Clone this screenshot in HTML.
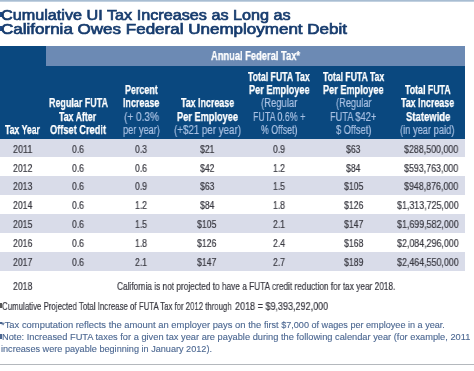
<!DOCTYPE html>
<html><head><meta charset="utf-8"><style>
html,body{margin:0;padding:0;background:#fff;width:474px;height:371px;overflow:hidden;position:relative}
.t{position:absolute;white-space:nowrap;font-family:"Liberation Sans",sans-serif;transform-origin:0 0;will-change:transform}
.r{position:absolute}
</style></head><body>
<div class="r" style="left:0px;top:0px;width:474px;height:1px;background:#a8bdd2"></div>
<div class="r" style="left:0px;top:1px;width:474px;height:1px;background:#c2d1e0"></div>
<div class="r" style="left:0px;top:46px;width:465px;height:92.5px;background:#0a487f"></div>
<div class="r" style="left:46px;top:46px;width:419px;height:19.6px;background:#6c8ab4"></div>
<div class="r" style="left:0px;top:138.5px;width:465px;height:18.93px;background:#d9dce9"></div>
<div class="r" style="left:0px;top:176.4px;width:465px;height:18.93px;background:#d9dce9"></div>
<div class="r" style="left:0px;top:214.2px;width:465px;height:18.93px;background:#d9dce9"></div>
<div class="r" style="left:0px;top:252.1px;width:465px;height:18.93px;background:#d9dce9"></div>
<div class="r" style="left:0px;top:363.5px;width:474px;height:1.2px;background:#b4b8bd"></div>
<div class="r" style="left:0px;top:12px;width:1.5px;height:5px;background:#1d4a8a"></div>
<div class="r" style="left:0px;top:26px;width:1.5px;height:4.5px;background:#1d4a8a"></div>
<div class="r" style="left:0px;top:303px;width:1.5px;height:5px;background:#555"></div>
<div class="r" style="left:0px;top:322px;width:2px;height:1.5px;background:#4b6690"></div>
<div class="r" style="left:0px;top:334px;width:1.5px;height:5px;background:#4b6690"></div>
<div class="t" style="left:0.80px;top:6.00px;font-size:15.3px;line-height:17px;font-weight:normal;color:#173c6e;transform:scaleX(1.0590);-webkit-text-stroke:0.7px #173c6e">Cumulative UI Tax Increases as Long as</div>
<div class="t" style="left:0.80px;top:20.00px;font-size:15.3px;line-height:17px;font-weight:normal;color:#173c6e;transform:scaleX(1.1120);-webkit-text-stroke:0.7px #173c6e">California Owes Federal Unemployment Debit</div>
<div class="t" style="left:210.80px;top:49.00px;font-size:12.0px;line-height:14px;font-weight:bold;color:#ffffff;transform:scaleX(0.7774);-webkit-text-stroke:0.25px #fff">Annual Federal Tax*</div>
<div class="t" style="left:5.30px;top:123.00px;font-size:12.0px;line-height:14px;font-weight:bold;color:#ffffff;transform:scaleX(0.7231);-webkit-text-stroke:0.25px #fff">Tax Year</div>
<div class="t" style="left:48.80px;top:96.00px;font-size:12.0px;line-height:14px;font-weight:bold;color:#ffffff;transform:scaleX(0.7457);-webkit-text-stroke:0.25px #fff">Regular FUTA</div>
<div class="t" style="left:59.20px;top:110.00px;font-size:12.0px;line-height:14px;font-weight:bold;color:#ffffff;transform:scaleX(0.7321);-webkit-text-stroke:0.25px #fff">Tax After</div>
<div class="t" style="left:50.00px;top:123.00px;font-size:12.0px;line-height:14px;font-weight:bold;color:#ffffff;transform:scaleX(0.7706);-webkit-text-stroke:0.25px #fff">Offset Credit</div>
<div class="t" style="left:124.90px;top:83.00px;font-size:12.0px;line-height:14px;font-weight:bold;color:#ffffff;transform:scaleX(0.7429);-webkit-text-stroke:0.25px #fff">Percent</div>
<div class="t" style="left:123.10px;top:96.00px;font-size:12.0px;line-height:14px;font-weight:bold;color:#ffffff;transform:scaleX(0.7453);-webkit-text-stroke:0.25px #fff">Increase</div>
<div class="t" style="left:123.70px;top:110.00px;font-size:12.0px;line-height:14px;font-weight:normal;color:#a9c1e3;transform:scaleX(0.8396);-webkit-text-stroke:0.2px #a9c1e3">(+ 0.3%</div>
<div class="t" style="left:123.00px;top:123.00px;font-size:12.0px;line-height:14px;font-weight:normal;color:#a9c1e3;transform:scaleX(0.7684);-webkit-text-stroke:0.2px #a9c1e3">per year)</div>
<div class="t" style="left:180.90px;top:96.00px;font-size:12.0px;line-height:14px;font-weight:bold;color:#ffffff;transform:scaleX(0.7393);-webkit-text-stroke:0.25px #fff">Tax Increase</div>
<div class="t" style="left:177.00px;top:110.00px;font-size:12.0px;line-height:14px;font-weight:bold;color:#ffffff;transform:scaleX(0.7686);-webkit-text-stroke:0.25px #fff">Per Employee</div>
<div class="t" style="left:174.20px;top:123.00px;font-size:12.0px;line-height:14px;font-weight:normal;color:#a9c1e3;transform:scaleX(0.8121);-webkit-text-stroke:0.2px #a9c1e3">(+$21 per year)</div>
<div class="t" style="left:248.30px;top:70.00px;font-size:12.0px;line-height:14px;font-weight:bold;color:#ffffff;transform:scaleX(0.7268);-webkit-text-stroke:0.25px #fff">Total FUTA Tax</div>
<div class="t" style="left:248.80px;top:83.00px;font-size:12.0px;line-height:14px;font-weight:bold;color:#ffffff;transform:scaleX(0.7635);-webkit-text-stroke:0.25px #fff">Per Employee</div>
<div class="t" style="left:261.00px;top:96.00px;font-size:12.0px;line-height:14px;font-weight:normal;color:#a9c1e3;transform:scaleX(0.7910);-webkit-text-stroke:0.2px #a9c1e3">(Regular</div>
<div class="t" style="left:252.70px;top:110.00px;font-size:12.0px;line-height:14px;font-weight:normal;color:#a9c1e3;transform:scaleX(0.7401);-webkit-text-stroke:0.2px #a9c1e3">FUTA 0.6% +</div>
<div class="t" style="left:261.40px;top:123.00px;font-size:12.0px;line-height:14px;font-weight:normal;color:#a9c1e3;transform:scaleX(0.7311);-webkit-text-stroke:0.2px #a9c1e3">% Offset)</div>
<div class="t" style="left:322.80px;top:70.00px;font-size:12.0px;line-height:14px;font-weight:bold;color:#ffffff;transform:scaleX(0.7209);-webkit-text-stroke:0.25px #fff">Total FUTA Tax</div>
<div class="t" style="left:322.80px;top:83.00px;font-size:12.0px;line-height:14px;font-weight:bold;color:#ffffff;transform:scaleX(0.7635);-webkit-text-stroke:0.25px #fff">Per Employee</div>
<div class="t" style="left:335.80px;top:96.00px;font-size:12.0px;line-height:14px;font-weight:normal;color:#a9c1e3;transform:scaleX(0.7736);-webkit-text-stroke:0.2px #a9c1e3">(Regular</div>
<div class="t" style="left:330.00px;top:110.00px;font-size:12.0px;line-height:14px;font-weight:normal;color:#a9c1e3;transform:scaleX(0.7682);-webkit-text-stroke:0.2px #a9c1e3">FUTA $42+</div>
<div class="t" style="left:336.40px;top:123.00px;font-size:12.0px;line-height:14px;font-weight:normal;color:#a9c1e3;transform:scaleX(0.7731);-webkit-text-stroke:0.2px #a9c1e3">$ Offset)</div>
<div class="t" style="left:405.00px;top:83.00px;font-size:12.0px;line-height:14px;font-weight:bold;color:#ffffff;transform:scaleX(0.7346);-webkit-text-stroke:0.25px #fff">Total FUTA</div>
<div class="t" style="left:401.20px;top:96.00px;font-size:12.0px;line-height:14px;font-weight:bold;color:#ffffff;transform:scaleX(0.7393);-webkit-text-stroke:0.25px #fff">Tax Increase</div>
<div class="t" style="left:405.50px;top:110.00px;font-size:12.0px;line-height:14px;font-weight:bold;color:#ffffff;transform:scaleX(0.7926);-webkit-text-stroke:0.25px #fff">Statewide</div>
<div class="t" style="left:399.90px;top:123.00px;font-size:12.0px;line-height:14px;font-weight:normal;color:#a9c1e3;transform:scaleX(0.7768);-webkit-text-stroke:0.2px #a9c1e3">(in year paid)</div>
<div class="t" style="left:13.40px;top:143.00px;font-size:10.6px;line-height:12px;font-weight:normal;color:#383840;transform:scaleX(0.8469);-webkit-text-stroke:0.2px #383840">2011</div>
<div class="t" style="left:71.80px;top:143.00px;font-size:10.6px;line-height:12px;font-weight:normal;color:#383840;transform:scaleX(0.8144);-webkit-text-stroke:0.2px #383840">0.6</div>
<div class="t" style="left:135.05px;top:143.00px;font-size:10.6px;line-height:12px;font-weight:normal;color:#383840;transform:scaleX(0.8144);-webkit-text-stroke:0.2px #383840">0.3</div>
<div class="t" style="left:199.92px;top:143.00px;font-size:10.6px;line-height:12px;font-weight:normal;color:#383840;transform:scaleX(0.8116);-webkit-text-stroke:0.2px #383840">$21</div>
<div class="t" style="left:273.00px;top:143.00px;font-size:10.6px;line-height:12px;font-weight:normal;color:#383840;transform:scaleX(0.8144);-webkit-text-stroke:0.2px #383840">0.9</div>
<div class="t" style="left:346.27px;top:143.00px;font-size:10.6px;line-height:12px;font-weight:normal;color:#383840;transform:scaleX(0.8116);-webkit-text-stroke:0.2px #383840">$63</div>
<div class="t" style="left:404.20px;top:143.00px;font-size:10.6px;line-height:12px;font-weight:normal;color:#383840;transform:scaleX(0.8359);-webkit-text-stroke:0.2px #383840">$288,500,000</div>
<div class="t" style="left:13.40px;top:162.00px;font-size:10.6px;line-height:12px;font-weight:normal;color:#383840;transform:scaleX(0.8183);-webkit-text-stroke:0.2px #383840">2012</div>
<div class="t" style="left:71.80px;top:162.00px;font-size:10.6px;line-height:12px;font-weight:normal;color:#383840;transform:scaleX(0.8144);-webkit-text-stroke:0.2px #383840">0.6</div>
<div class="t" style="left:135.05px;top:162.00px;font-size:10.6px;line-height:12px;font-weight:normal;color:#383840;transform:scaleX(0.8144);-webkit-text-stroke:0.2px #383840">0.6</div>
<div class="t" style="left:199.92px;top:162.00px;font-size:10.6px;line-height:12px;font-weight:normal;color:#383840;transform:scaleX(0.8116);-webkit-text-stroke:0.2px #383840">$42</div>
<div class="t" style="left:273.00px;top:162.00px;font-size:10.6px;line-height:12px;font-weight:normal;color:#383840;transform:scaleX(0.8144);-webkit-text-stroke:0.2px #383840">1.2</div>
<div class="t" style="left:346.27px;top:162.00px;font-size:10.6px;line-height:12px;font-weight:normal;color:#383840;transform:scaleX(0.8116);-webkit-text-stroke:0.2px #383840">$84</div>
<div class="t" style="left:404.20px;top:162.00px;font-size:10.6px;line-height:12px;font-weight:normal;color:#383840;transform:scaleX(0.8359);-webkit-text-stroke:0.2px #383840">$593,763,000</div>
<div class="t" style="left:13.40px;top:180.00px;font-size:10.6px;line-height:12px;font-weight:normal;color:#383840;transform:scaleX(0.8183);-webkit-text-stroke:0.2px #383840">2013</div>
<div class="t" style="left:71.80px;top:180.00px;font-size:10.6px;line-height:12px;font-weight:normal;color:#383840;transform:scaleX(0.8144);-webkit-text-stroke:0.2px #383840">0.6</div>
<div class="t" style="left:135.05px;top:180.00px;font-size:10.6px;line-height:12px;font-weight:normal;color:#383840;transform:scaleX(0.8144);-webkit-text-stroke:0.2px #383840">0.9</div>
<div class="t" style="left:199.92px;top:180.00px;font-size:10.6px;line-height:12px;font-weight:normal;color:#383840;transform:scaleX(0.8116);-webkit-text-stroke:0.2px #383840">$63</div>
<div class="t" style="left:273.00px;top:180.00px;font-size:10.6px;line-height:12px;font-weight:normal;color:#383840;transform:scaleX(0.8144);-webkit-text-stroke:0.2px #383840">1.5</div>
<div class="t" style="left:343.80px;top:180.00px;font-size:10.6px;line-height:12px;font-weight:normal;color:#383840;transform:scaleX(0.8183);-webkit-text-stroke:0.2px #383840">$105</div>
<div class="t" style="left:404.20px;top:180.00px;font-size:10.6px;line-height:12px;font-weight:normal;color:#383840;transform:scaleX(0.8359);-webkit-text-stroke:0.2px #383840">$948,876,000</div>
<div class="t" style="left:13.40px;top:199.00px;font-size:10.6px;line-height:12px;font-weight:normal;color:#383840;transform:scaleX(0.8183);-webkit-text-stroke:0.2px #383840">2014</div>
<div class="t" style="left:71.80px;top:199.00px;font-size:10.6px;line-height:12px;font-weight:normal;color:#383840;transform:scaleX(0.8144);-webkit-text-stroke:0.2px #383840">0.6</div>
<div class="t" style="left:135.05px;top:199.00px;font-size:10.6px;line-height:12px;font-weight:normal;color:#383840;transform:scaleX(0.8144);-webkit-text-stroke:0.2px #383840">1.2</div>
<div class="t" style="left:199.92px;top:199.00px;font-size:10.6px;line-height:12px;font-weight:normal;color:#383840;transform:scaleX(0.8116);-webkit-text-stroke:0.2px #383840">$84</div>
<div class="t" style="left:273.00px;top:199.00px;font-size:10.6px;line-height:12px;font-weight:normal;color:#383840;transform:scaleX(0.8144);-webkit-text-stroke:0.2px #383840">1.8</div>
<div class="t" style="left:343.80px;top:199.00px;font-size:10.6px;line-height:12px;font-weight:normal;color:#383840;transform:scaleX(0.8183);-webkit-text-stroke:0.2px #383840">$126</div>
<div class="t" style="left:396.65px;top:199.00px;font-size:10.6px;line-height:12px;font-weight:normal;color:#383840;transform:scaleX(0.8381);-webkit-text-stroke:0.2px #383840">$1,313,725,000</div>
<div class="t" style="left:13.40px;top:218.00px;font-size:10.6px;line-height:12px;font-weight:normal;color:#383840;transform:scaleX(0.8183);-webkit-text-stroke:0.2px #383840">2015</div>
<div class="t" style="left:71.80px;top:218.00px;font-size:10.6px;line-height:12px;font-weight:normal;color:#383840;transform:scaleX(0.8144);-webkit-text-stroke:0.2px #383840">0.6</div>
<div class="t" style="left:135.05px;top:218.00px;font-size:10.6px;line-height:12px;font-weight:normal;color:#383840;transform:scaleX(0.8144);-webkit-text-stroke:0.2px #383840">1.5</div>
<div class="t" style="left:197.45px;top:218.00px;font-size:10.6px;line-height:12px;font-weight:normal;color:#383840;transform:scaleX(0.8183);-webkit-text-stroke:0.2px #383840">$105</div>
<div class="t" style="left:273.00px;top:218.00px;font-size:10.6px;line-height:12px;font-weight:normal;color:#383840;transform:scaleX(0.8144);-webkit-text-stroke:0.2px #383840">2.1</div>
<div class="t" style="left:343.80px;top:218.00px;font-size:10.6px;line-height:12px;font-weight:normal;color:#383840;transform:scaleX(0.8183);-webkit-text-stroke:0.2px #383840">$147</div>
<div class="t" style="left:396.65px;top:218.00px;font-size:10.6px;line-height:12px;font-weight:normal;color:#383840;transform:scaleX(0.8381);-webkit-text-stroke:0.2px #383840">$1,699,582,000</div>
<div class="t" style="left:13.40px;top:237.00px;font-size:10.6px;line-height:12px;font-weight:normal;color:#383840;transform:scaleX(0.8183);-webkit-text-stroke:0.2px #383840">2016</div>
<div class="t" style="left:71.80px;top:237.00px;font-size:10.6px;line-height:12px;font-weight:normal;color:#383840;transform:scaleX(0.8144);-webkit-text-stroke:0.2px #383840">0.6</div>
<div class="t" style="left:135.05px;top:237.00px;font-size:10.6px;line-height:12px;font-weight:normal;color:#383840;transform:scaleX(0.8144);-webkit-text-stroke:0.2px #383840">1.8</div>
<div class="t" style="left:197.45px;top:237.00px;font-size:10.6px;line-height:12px;font-weight:normal;color:#383840;transform:scaleX(0.8183);-webkit-text-stroke:0.2px #383840">$126</div>
<div class="t" style="left:273.00px;top:237.00px;font-size:10.6px;line-height:12px;font-weight:normal;color:#383840;transform:scaleX(0.8144);-webkit-text-stroke:0.2px #383840">2.4</div>
<div class="t" style="left:343.80px;top:237.00px;font-size:10.6px;line-height:12px;font-weight:normal;color:#383840;transform:scaleX(0.8183);-webkit-text-stroke:0.2px #383840">$168</div>
<div class="t" style="left:396.65px;top:237.00px;font-size:10.6px;line-height:12px;font-weight:normal;color:#383840;transform:scaleX(0.8381);-webkit-text-stroke:0.2px #383840">$2,084,296,000</div>
<div class="t" style="left:13.40px;top:256.00px;font-size:10.6px;line-height:12px;font-weight:normal;color:#383840;transform:scaleX(0.8183);-webkit-text-stroke:0.2px #383840">2017</div>
<div class="t" style="left:71.80px;top:256.00px;font-size:10.6px;line-height:12px;font-weight:normal;color:#383840;transform:scaleX(0.8144);-webkit-text-stroke:0.2px #383840">0.6</div>
<div class="t" style="left:135.05px;top:256.00px;font-size:10.6px;line-height:12px;font-weight:normal;color:#383840;transform:scaleX(0.8144);-webkit-text-stroke:0.2px #383840">2.1</div>
<div class="t" style="left:197.45px;top:256.00px;font-size:10.6px;line-height:12px;font-weight:normal;color:#383840;transform:scaleX(0.8183);-webkit-text-stroke:0.2px #383840">$147</div>
<div class="t" style="left:273.00px;top:256.00px;font-size:10.6px;line-height:12px;font-weight:normal;color:#383840;transform:scaleX(0.8144);-webkit-text-stroke:0.2px #383840">2.7</div>
<div class="t" style="left:343.80px;top:256.00px;font-size:10.6px;line-height:12px;font-weight:normal;color:#383840;transform:scaleX(0.8183);-webkit-text-stroke:0.2px #383840">$189</div>
<div class="t" style="left:396.65px;top:256.00px;font-size:10.6px;line-height:12px;font-weight:normal;color:#383840;transform:scaleX(0.8381);-webkit-text-stroke:0.2px #383840">$2,464,550,000</div>
<div class="t" style="left:13.40px;top:280.00px;font-size:10.6px;line-height:12px;font-weight:normal;color:#383840;transform:scaleX(0.8183);-webkit-text-stroke:0.2px #383840">2018</div>
<div class="t" style="left:116.50px;top:279.50px;font-size:10.6px;line-height:12px;font-weight:normal;color:#383840;transform:scaleX(0.7817);-webkit-text-stroke:0.2px #383840">California is not projected to have a FUTA credit reduction for tax year 2018.</div>
<div class="t" style="left:2.20px;top:299.50px;font-size:10.7px;line-height:12px;font-weight:normal;color:#383840;transform:scaleX(0.7366);-webkit-text-stroke:0.2px #383840">Cumulative Projected Total Increase of</div>
<div class="t" style="left:139.30px;top:299.50px;font-size:10.7px;line-height:12px;font-weight:normal;color:#383840;transform:scaleX(0.7272);-webkit-text-stroke:0.2px #383840">FUTA Tax for 2012 through</div>
<div class="t" style="left:234.60px;top:299.50px;font-size:10.7px;line-height:12px;font-weight:normal;color:#383840;transform:scaleX(0.8453);-webkit-text-stroke:0.2px #383840">2018 = $9,393,292,000</div>
<div class="t" style="left:0.80px;top:320.00px;font-size:8.7px;line-height:10px;font-weight:normal;color:#4a6690;transform:scaleX(1.0821);-webkit-text-stroke:0.1px #4a6690">*Tax computation reflects the amount an employer pays on the</div>
<div class="t" style="left:263.70px;top:320.00px;font-size:8.7px;line-height:10px;font-weight:normal;color:#4a6690;transform:scaleX(1.0460);-webkit-text-stroke:0.1px #4a6690">first $7,000 of wages per employee in a year.</div>
<div class="t" style="left:1.50px;top:332.00px;font-size:8.7px;line-height:10px;font-weight:normal;color:#4a6690;transform:scaleX(1.0665);-webkit-text-stroke:0.1px #4a6690">Note: Increased FUTA taxes for a given tax year are payable during the following calendar year (for example, 2011</div>
<div class="t" style="left:1.20px;top:344.00px;font-size:8.7px;line-height:10px;font-weight:normal;color:#4a6690;transform:scaleX(1.0502);-webkit-text-stroke:0.1px #4a6690">increases were payable beginning in January 2012).</div>
</body></html>
